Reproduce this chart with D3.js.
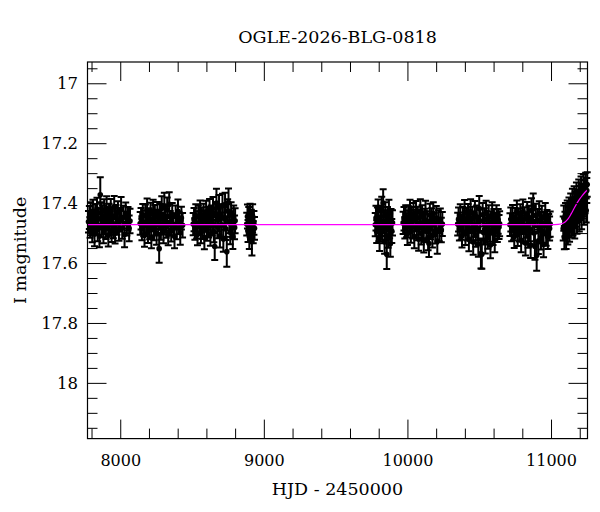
<!DOCTYPE html>
<html>
<head>
<meta charset="utf-8">
<script src="https://cdn.jsdelivr.net/npm/d3@7"></script>
<style>
body { margin: 0; background: #fff; }
text { font-family: "DejaVu Serif", serif; fill: #000; }
</style>
</head>
<body>
<div id="LightCurve"></div>
<script>
const title = "OGLE-2026-BLG-0818"
const xAxisLabel = "HJD - 2450000"
const yAxisLabel = "I magnitude"

// observing seasons: [HJD-2450000, I mag, error]
const season1 = [[7779,17.462,0.036],[7785,17.448,0.038],[7790,17.481,0.035],[7794,17.437,0.040],[7799,17.470,0.037],[7805,17.495,0.036],[7810,17.428,0.039],[7816,17.458,0.035],[7821,17.503,0.041],[7826,17.441,0.037],[7832,17.469,0.036],[7838,17.420,0.038],[7843,17.487,0.040],[7849,17.452,0.035],[7855,17.510,0.037],[7861,17.372,0.058],[7866,17.433,0.036],[7871,17.476,0.038],[7877,17.447,0.040],[7883,17.498,0.036],[7888,17.424,0.037],[7894,17.463,0.039],[7900,17.485,0.035],[7905,17.418,0.041],[7911,17.455,0.036],[7917,17.507,0.038],[7922,17.439,0.037],[7928,17.471,0.035],[7934,17.426,0.040],[7940,17.492,0.038],[7946,17.450,0.036],[7952,17.478,0.039],[7958,17.413,0.037],[7964,17.500,0.035],[7970,17.444,0.038],[7977,17.466,0.040],[7984,17.430,0.036],[7991,17.489,0.037],[7998,17.456,0.039],[8006,17.421,0.041],[8014,17.483,0.036],[8022,17.447,0.038],[8030,17.505,0.042],[8038,17.435,0.037],[8046,17.468,0.040],[8054,17.452,0.039],[8062,17.484,0.043],[8068,17.460,0.041]]
const season2 = [[8139,17.468,0.038],[8145,17.452,0.036],[8151,17.484,0.040],[8157,17.440,0.037],[8163,17.476,0.035],[8169,17.507,0.039],[8175,17.441,0.036],[8181,17.463,0.038],[8187,17.425,0.040],[8193,17.496,0.037],[8199,17.452,0.035],[8205,17.480,0.041],[8211,17.436,0.037],[8217,17.513,0.038],[8223,17.458,0.036],[8229,17.428,0.039],[8235,17.487,0.037],[8241,17.446,0.040],[8247,17.472,0.036],[8253,17.501,0.038],[8259,17.431,0.035],[8265,17.461,0.039],[8271,17.552,0.047],[8277,17.440,0.037],[8283,17.484,0.038],[8289,17.417,0.040],[8295,17.469,0.036],[8301,17.495,0.039],[8307,17.409,0.044],[8313,17.455,0.037],[8320,17.478,0.038],[8327,17.422,0.041],[8334,17.504,0.037],[8341,17.404,0.040],[8348,17.462,0.036],[8355,17.489,0.039],[8362,17.438,0.038],[8370,17.471,0.037],[8378,17.511,0.040],[8386,17.444,0.036],[8394,17.483,0.038],[8402,17.427,0.039],[8410,17.466,0.037],[8418,17.499,0.040],[8426,17.450,0.038],[8434,17.474,0.041]]
const season3 = [[8508,17.470,0.037],[8514,17.455,0.039],[8520,17.486,0.036],[8526,17.442,0.038],[8532,17.478,0.040],[8538,17.505,0.036],[8544,17.445,0.037],[8550,17.466,0.039],[8556,17.429,0.038],[8562,17.498,0.036],[8568,17.455,0.040],[8574,17.483,0.037],[8580,17.440,0.038],[8586,17.515,0.039],[8592,17.460,0.036],[8598,17.432,0.040],[8604,17.489,0.037],[8610,17.450,0.038],[8616,17.474,0.041],[8622,17.423,0.037],[8628,17.503,0.039],[8634,17.444,0.036],[8640,17.468,0.040],[8646,17.418,0.038],[8652,17.494,0.037],[8658,17.545,0.045],[8664,17.436,0.039],[8670,17.400,0.048],[8676,17.480,0.037],[8682,17.457,0.038],[8688,17.413,0.040],[8694,17.509,0.039],[8700,17.441,0.037],[8706,17.472,0.041],[8712,17.408,0.039],[8718,17.520,0.042],[8724,17.451,0.038],[8730,17.405,0.040],[8736,17.486,0.037],[8742,17.562,0.050],[8748,17.426,0.039],[8754,17.398,0.047],[8760,17.463,0.038],[8766,17.497,0.040],[8772,17.434,0.037],[8778,17.475,0.039],[8784,17.512,0.041],[8790,17.446,0.038],[8796,17.481,0.040],[8800,17.459,0.042]]
const season4 = [[8881,17.470,0.038],[8886,17.445,0.040],[8890,17.493,0.037],[8895,17.452,0.039],[8899,17.512,0.041],[8904,17.438,0.036],[8908,17.481,0.040],[8913,17.460,0.038],[8917,17.528,0.047],[8922,17.443,0.039],[8926,17.497,0.037],[8931,17.466,0.040],[8935,17.484,0.038]]
const season5 = [[9776,17.472,0.039],[9781,17.450,0.041],[9786,17.495,0.038],[9791,17.455,0.040],[9796,17.425,0.037],[9801,17.488,0.039],[9806,17.518,0.042],[9811,17.447,0.038],[9816,17.470,0.040],[9821,17.420,0.041],[9826,17.495,0.039],[9831,17.400,0.046],[9836,17.462,0.038],[9841,17.529,0.040],[9846,17.436,0.039],[9851,17.482,0.041],[9856,17.571,0.049],[9861,17.451,0.038],[9866,17.509,0.040],[9871,17.428,0.039],[9876,17.476,0.041],[9881,17.536,0.043],[9886,17.458,0.038],[9891,17.493,0.040],[9896,17.466,0.042]]
const season6 = [[9970,17.466,0.037],[9976,17.452,0.039],[9982,17.482,0.036],[9988,17.445,0.038],[9994,17.474,0.040],[10000,17.503,0.037],[10006,17.447,0.038],[10012,17.461,0.036],[10018,17.428,0.039],[10024,17.495,0.037],[10030,17.453,0.040],[10036,17.480,0.038],[10042,17.437,0.037],[10048,17.512,0.039],[10054,17.458,0.036],[10060,17.433,0.040],[10066,17.486,0.038],[10072,17.449,0.037],[10078,17.520,0.039],[10084,17.470,0.036],[10090,17.427,0.040],[10096,17.500,0.038],[10102,17.444,0.037],[10108,17.478,0.039],[10114,17.525,0.040],[10120,17.456,0.037],[10126,17.431,0.039],[10132,17.493,0.038],[10138,17.463,0.036],[10144,17.516,0.041],[10150,17.535,0.045],[10156,17.440,0.038],[10162,17.482,0.039],[10168,17.454,0.037],[10174,17.508,0.040],[10180,17.435,0.038],[10187,17.471,0.039],[10194,17.498,0.037],[10201,17.450,0.040],[10208,17.527,0.042],[10215,17.462,0.038],[10222,17.488,0.039],[10229,17.455,0.037],[10236,17.490,0.041],[10243,17.470,0.040]]
const season7 = [[10350,17.470,0.038],[10356,17.455,0.040],[10362,17.488,0.037],[10368,17.443,0.039],[10374,17.481,0.041],[10380,17.510,0.038],[10386,17.452,0.039],[10392,17.468,0.037],[10398,17.430,0.040],[10404,17.502,0.038],[10410,17.457,0.041],[10416,17.486,0.039],[10422,17.441,0.038],[10428,17.521,0.040],[10434,17.463,0.037],[10440,17.428,0.041],[10446,17.493,0.039],[10452,17.450,0.038],[10458,17.530,0.042],[10464,17.475,0.037],[10470,17.433,0.040],[10476,17.507,0.039],[10482,17.446,0.038],[10488,17.484,0.040],[10494,17.536,0.043],[10500,17.418,0.042],[10506,17.460,0.039],[10512,17.568,0.050],[10518,17.571,0.048],[10524,17.439,0.039],[10530,17.498,0.040],[10536,17.455,0.038],[10542,17.527,0.041],[10548,17.431,0.039],[10554,17.479,0.040],[10560,17.514,0.038],[10566,17.448,0.041],[10572,17.490,0.039],[10578,17.540,0.044],[10584,17.465,0.038],[10590,17.437,0.040],[10596,17.501,0.039],[10602,17.458,0.038],[10608,17.523,0.041],[10614,17.472,0.039],[10620,17.447,0.040],[10626,17.492,0.038],[10632,17.461,0.041],[10638,17.480,0.040],[10642,17.469,0.042]]
const season8 = [[10714,17.472,0.038],[10720,17.455,0.040],[10726,17.490,0.037],[10732,17.445,0.039],[10738,17.483,0.041],[10744,17.512,0.038],[10750,17.455,0.039],[10756,17.470,0.037],[10762,17.431,0.040],[10768,17.505,0.038],[10774,17.459,0.041],[10780,17.489,0.039],[10786,17.442,0.038],[10792,17.524,0.040],[10798,17.466,0.037],[10804,17.429,0.041],[10810,17.496,0.039],[10816,17.452,0.038],[10822,17.533,0.042],[10828,17.478,0.037],[10834,17.436,0.040],[10840,17.510,0.039],[10846,17.447,0.038],[10852,17.487,0.040],[10858,17.540,0.043],[10864,17.425,0.041],[10870,17.463,0.039],[10876,17.412,0.044],[10882,17.500,0.040],[10888,17.545,0.044],[10894,17.441,0.039],[10900,17.575,0.051],[10906,17.458,0.038],[10912,17.529,0.041],[10918,17.433,0.039],[10924,17.481,0.040],[10930,17.517,0.038],[10936,17.450,0.041],[10942,17.493,0.039],[10948,17.538,0.043],[10954,17.468,0.038],[10960,17.440,0.040],[10966,17.503,0.039],[10972,17.461,0.038],[10978,17.512,0.041],[10984,17.475,0.039],[10990,17.485,0.040],[10994,17.470,0.042]]
const season9 = [[11085,17.485,0.040],[11089,17.450,0.042],[11093,17.515,0.039],[11097,17.470,0.041],[11101,17.440,0.040],[11105,17.508,0.045],[11109,17.478,0.039],[11113,17.432,0.041],[11117,17.498,0.040],[11121,17.455,0.042],[11125,17.420,0.039],[11129,17.488,0.041],[11133,17.445,0.040],[11137,17.410,0.042],[11141,17.475,0.039],[11145,17.432,0.041],[11149,17.392,0.040],[11153,17.466,0.042],[11157,17.420,0.039],[11161,17.385,0.041],[11165,17.478,0.040],[11169,17.405,0.042],[11173,17.440,0.039],[11177,17.372,0.041],[11181,17.462,0.040],[11185,17.398,0.042],[11189,17.425,0.039],[11193,17.362,0.041],[11197,17.455,0.040],[11201,17.385,0.042],[11205,17.418,0.039],[11209,17.352,0.041],[11213,17.447,0.040],[11217,17.378,0.042],[11221,17.405,0.039],[11225,17.345,0.041],[11229,17.432,0.040],[11233,17.365,0.042],[11237,17.395,0.039],[11241,17.340,0.041],[11245,17.425,0.040],[11249,17.358,0.042],[11252,17.338,0.041]]

// microlensing model curve
const modelHjd = [7772, 11000, 11050, 11080, 11100, 11120, 11140, 11160, 11180, 11200, 11220, 11240, 11254]
const modelMag = [17.472, 17.472, 17.471, 17.468, 17.462, 17.452, 17.436, 17.418, 17.401, 17.386, 17.373, 17.362, 17.356]

const xMajor = [8000, 9000, 10000, 11000]
const xMinor = [7800, 8200, 8400, 8600, 8800, 9200, 9400, 9600, 9800, 10200, 10400, 10600, 10800, 11200]
const yMajor = [17, 17.2, 17.4, 17.6, 17.8, 18]
const yMinor = [16.95, 17.05, 17.1, 17.15, 17.25, 17.3, 17.35, 17.45, 17.5, 17.55, 17.65, 17.7, 17.75, 17.85, 17.9, 17.95, 18.05, 18.1, 18.15]

const width = 600
const height = 512
const margin = {top: 62, right: 12.5, bottom: 73.4, left: 87.5}
const innerWidth = width - margin.left - margin.right
const innerHeight = height - margin.top - margin.bottom

const svg = d3.select("#LightCurve").append("svg")
    .attr("width", width)
    .attr("height", height)

const xScale = d3.scaleLinear()
    .domain([7772, 11254])
    .range([0, innerWidth])

// magnitudes: brighter is up
const yScale = d3.scaleLinear()
    .domain([16.929, 18.186])
    .range([0, innerHeight])

const g = svg.append("g")
    .attr("transform", `translate(${margin.left}, ${margin.top})`)

const data = [season1, season2, season3, season4, season5, season6, season7, season8, season9]
    .flat()
    .map(d => ({hjd: d[0], mag: d[1], err: d[2]}))

const capW = 3.5
g.append("g")
    .selectAll("path")
    .data(data)
    .join("path")
    .attr("d", d => {
        const x = xScale(d.hjd)
        const y1 = yScale(d.mag - d.err)
        const y2 = yScale(d.mag + d.err)
        return `M${x},${y1}V${y2}M${x - capW},${y1}H${x + capW}M${x - capW},${y2}H${x + capW}`
    })
    .attr("fill", "none")
    .attr("stroke", "#000")
    .attr("stroke-width", 2)

g.append("g")
    .selectAll("circle")
    .data(data)
    .join("circle")
    .attr("cx", d => xScale(d.hjd))
    .attr("cy", d => yScale(d.mag))
    .attr("r", 2.8)
    .attr("fill", "#000")

const lineGenerator = d3.line()
    .x(d => xScale(d[0]))
    .y(d => yScale(d[1]))
    .curve(d3.curveMonotoneX)

g.append("path")
    .attr("d", lineGenerator(d3.zip(modelHjd, modelMag)))
    .attr("fill", "none")
    .attr("stroke", "#ff00ff")
    .attr("stroke-width", 1.2)

// axes, ticks pointing inwards on all four sides
const fixAxis = sel => {
    sel.attr("font-size", null).attr("font-family", null)
    sel.select(".domain").remove()
    sel.selectAll("line").attr("stroke", "#000")
}
const plain = d => String(d)

g.append("g").attr("transform", `translate(0, ${innerHeight})`)
    .call(d3.axisBottom(xScale).tickValues(xMajor).tickSize(-19).tickSizeOuter(0).tickPadding(16).tickFormat(plain))
    .call(fixAxis)
    .selectAll("text").style("font-size", "16px")
g.append("g").attr("transform", `translate(0, ${innerHeight})`)
    .call(d3.axisBottom(xScale).tickValues(xMinor).tickSize(-10).tickFormat(""))
    .call(fixAxis)
g.append("g")
    .call(d3.axisTop(xScale).tickValues(xMajor).tickSize(-19).tickFormat(""))
    .call(fixAxis)
g.append("g")
    .call(d3.axisTop(xScale).tickValues(xMinor).tickSize(-10).tickFormat(""))
    .call(fixAxis)

g.append("g")
    .call(d3.axisLeft(yScale).tickValues(yMajor).tickSize(-19).tickPadding(9.5).tickFormat(plain))
    .call(fixAxis)
    .selectAll("text").style("font-size", "16.5px")
g.append("g")
    .call(d3.axisLeft(yScale).tickValues(yMinor).tickSize(-10).tickFormat(""))
    .call(fixAxis)
g.append("g").attr("transform", `translate(${innerWidth}, 0)`)
    .call(d3.axisRight(yScale).tickValues(yMajor).tickSize(-19).tickFormat(""))
    .call(fixAxis)
g.append("g").attr("transform", `translate(${innerWidth}, 0)`)
    .call(d3.axisRight(yScale).tickValues(yMinor).tickSize(-10).tickFormat(""))
    .call(fixAxis)

g.append("rect")
    .attr("width", innerWidth)
    .attr("height", innerHeight)
    .attr("fill", "none")
    .attr("stroke", "#000")
    .attr("stroke-width", 1.2)

svg.append("text")
    .attr("x", margin.left + innerWidth / 2)
    .attr("y", 495)
    .attr("text-anchor", "middle")
    .style("font-size", "17.5px")
    .text(xAxisLabel)

svg.append("text")
    .attr("transform", `translate(26, ${margin.top + innerHeight / 2}) rotate(-90)`)
    .attr("text-anchor", "middle")
    .style("font-size", "17.5px")
    .text(yAxisLabel)

svg.append("text")
    .attr("x", margin.left + innerWidth / 2)
    .attr("y", 43)
    .attr("text-anchor", "middle")
    .style("font-size", "17.5px")
    .text(title)
</script>
</body>
</html>
